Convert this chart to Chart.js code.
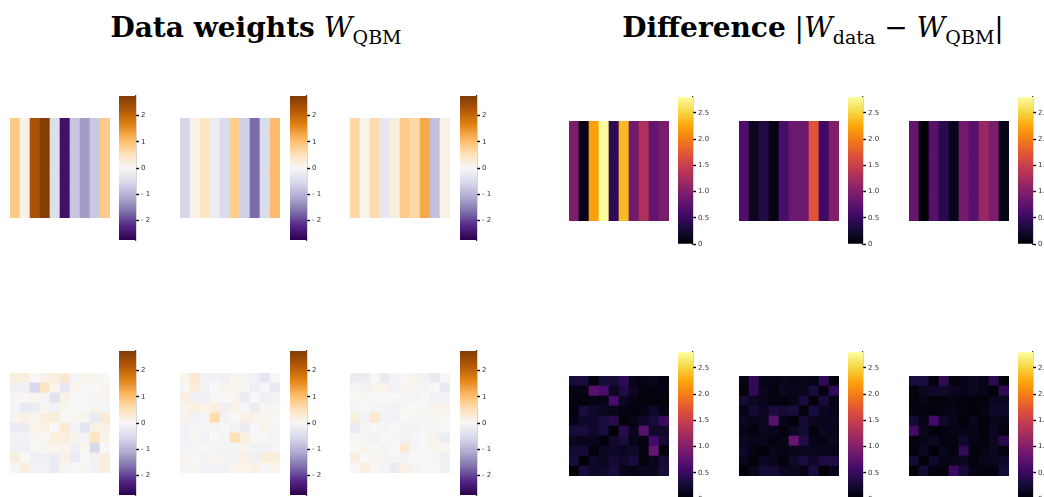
<!DOCTYPE html>
<html>
<head>
<meta charset="utf-8">
<script src="https://cdn.jsdelivr.net/npm/chart.js@4.4.0/dist/chart.umd.min.js"></script>
<style>
  html, body { margin: 0; padding: 0; background: #fff; }
  body { width: 1044px; height: 497px; position: relative; overflow: hidden; }
  canvas { position: absolute; }
  .title { position: absolute; top: 13px; font-family: "DejaVu Serif", serif; font-size: 28px; line-height: 30px; white-space: nowrap; text-align: center; color: #000; }
  .title b { font-weight: bold; }
  .title i { font-style: italic; }
  .title sub { font-size: 19px; vertical-align: -7px; line-height: 0; }
</style>
</head>
<body>
<div class="title" style="left:0;width:512px"><b>Data weights</b> <i>W</i><sub>QBM</sub></div>
<div class="title" style="left:582px;width:462px"><b>Difference</b> |<i>W</i><sub>data</sub> − <i>W</i><sub>QBM</sub>|</div>

<script>
// ---- data ----
const colLabels = ["0", "1", "2", "3", "4", "5", "6", "7", "8", "9"];

// top row: weights are constant down each column
const qbmStripes1 = [0.85, 0.15, 2.3, 2.7, -0.45, -2.5, -0.8, -1.25, -0.75, 0.85];
const qbmStripes2 = [-0.6, 0.15, 0.45, -0.2, -0.5, 0.8, -0.65, -1.7, -0.5, 1.05];
const qbmStripes3 = [0.65, 0.1, 0.6, -0.3, 0.2, 0.85, 0.65, 1.25, -0.85, 0.15];

const diffStripes1 = [0.95, 0.1, 2.2, 2.78, 0.45, 2.35, 0.9, 1.3, 0.8, 0.95];
const diffStripes2 = [0.65, 0.15, 0.35, 0.08, 0.6, 0.85, 0.85, 1.7, 0.55, 1.0];
const diffStripes3 = [0.8, 0.02, 0.7, 0.4, 0.12, 0.9, 0.7, 1.15, 0.95, 0.1];

// bottom row: full 10x10 weights, top row of the grid first
const qbmGrid1 = [
  [0.2, 0.2, 0, 0.15, 0.2, 0.35, -0.05, 0.05, 0.1, 0],
  [-0.15, -0.15, -0.55, 0.45, 0.1, -0.3, 0.1, 0, 0, 0.05],
  [0.05, 0, 0.05, -0.05, -0.4, 0.15, 0, 0, -0.05, 0.05],
  [-0.05, -0.25, -0.2, 0.05, -0.1, 0.05, 0, 0, 0.1, -0.05],
  [0.05, 0.15, 0.1, 0.2, 0.25, 0, 0.05, 0.1, -0.25, 0.3],
  [-0.25, -0.2, 0.1, 0.15, 0, 0.3, -0.1, -0.35, 0.15, 0.15],
  [-0.1, -0.1, 0.05, 0, 0.2, 0.25, 0.1, -0.05, 0.45, 0.1],
  [-0.15, -0.15, 0, 0.05, 0.1, 0.1, -0.15, 0.05, -0.55, 0],
  [0.25, 0, -0.15, -0.15, -0.2, 0.15, -0.25, 0, -0.1, 0.2],
  [-0.02, 0.25, -0.1, -0.1, -0.25, 0.05, 0, 0.05, -0.1, 0.2]
];
const qbmGrid2 = [
  [0.1, 0.35, -0.1, -0.1, -0.15, 0.05, 0.05, -0.1, -0.3, 0],
  [-0.02, 0.25, -0.1, 0, 0.1, 0.05, 0.05, -0.15, 0, -0.25],
  [0.2, -0.15, -0.15, 0, 0, 0.05, -0.2, 0, -0.15, -0.1],
  [0.1, 0.2, 0.1, 0.2, -0.15, 0.15, 0, -0.2, 0.05, 0.05],
  [0.1, -0.1, -0.05, 0.6, -0.1, 0, 0.15, 0.1, 0.05, 0.03],
  [-0.1, -0.03, -0.05, -0.05, 0, -0.1, -0.2, 0, 0.1, -0.05],
  [-0.1, 0.08, -0.1, 0, -0.05, 0.55, 0.2, 0, 0, -0.05],
  [-0.08, -0.03, 0, -0.05, -0.08, -0.08, 0.08, -0.1, -0.1, -0.03],
  [0.08, -0.02, -0.08, 0.08, -0.05, -0.1, 0.15, -0.15, 0.25, 0.25],
  [-0.05, 0.08, -0.1, -0.1, -0.1, 0.1, 0.1, 0.15, -0.02, 0.1]
];
const qbmGrid3 = [
  [-0.2, -0.2, 0, -0.25, -0.05, 0.02, 0.1, -0.1, -0.25, 0],
  [-0.03, -0.1, 0.1, 0.1, -0.1, 0.05, 0.05, -0.05, 0, -0.25],
  [0.02, 0.03, 0, 0, 0, -0.05, -0.05, 0, -0.1, -0.1],
  [-0.05, 0, -0.05, -0.05, -0.1, 0.05, 0, 0.03, 0.1, 0.1],
  [0.2, -0.1, 0.35, -0.1, -0.1, 0, 0.05, -0.05, 0.08, 0.02],
  [-0.25, 0.05, -0.02, -0.05, 0, -0.08, -0.08, -0.02, -0.05, 0],
  [-0.02, -0.05, -0.1, 0, -0.03, -0.08, -0.03, 0, 0.1, -0.2],
  [0, 0.1, 0, -0.08, 0, 0.3, -0.03, 0, 0.1, 0.02],
  [0.2, 0, 0.1, -0.05, 0.05, -0.08, 0, 0.03, -0.03, -0.15],
  [-0.02, 0.2, 0, -0.05, -0.25, 0.15, -0.05, 0, 0, -0.15]
];

const diffGrid1 = [
  [0.3, 0.3, 0.05, 0.28, 0.28, 0.45, 0.1, 0.08, 0.12, 0.05],
  [0.08, 0.1, 0.7, 0.6, 0.15, 0.35, 0.15, 0.05, 0.05, 0.1],
  [0.08, 0.05, 0.1, 0.1, 0.6, 0.15, 0.08, 0.05, 0.05, 0.05],
  [0.05, 0.3, 0.2, 0.15, 0.12, 0.08, 0.05, 0.08, 0.2, 0.08],
  [0.1, 0.2, 0.2, 0.3, 0.4, 0.02, 0.1, 0.2, 0.3, 0.5],
  [0.3, 0.3, 0.2, 0.3, 0.02, 0.4, 0.12, 0.7, 0.2, 0.2],
  [0.15, 0.12, 0.12, 0.05, 0.2, 0.3, 0.1, 0.08, 0.55, 0.25],
  [0.25, 0.25, 0.05, 0.15, 0.2, 0.15, 0.2, 0.05, 0.8, 0.03],
  [0.3, 0.02, 0.2, 0.15, 0.25, 0.2, 0.3, 0.05, 0.12, 0.25],
  [0.03, 0.3, 0.2, 0.2, 0.3, 0.12, 0.08, 0.15, 0.15, 0.3]
];
const diffGrid2 = [
  [0.1, 0.45, 0.1, 0.1, 0.12, 0.1, 0.12, 0.1, 0.45, 0.05],
  [0.05, 0.45, 0.15, 0.05, 0.15, 0.12, 0.12, 0.3, 0.05, 0.45],
  [0.25, 0.15, 0.12, 0.08, 0.05, 0.12, 0.3, 0.05, 0.3, 0.1],
  [0.1, 0.25, 0.15, 0.3, 0.25, 0.3, 0.05, 0.3, 0.15, 0.12],
  [0.15, 0.12, 0.15, 0.7, 0.1, 0.03, 0.25, 0.15, 0.12, 0.15],
  [0.1, 0.05, 0.15, 0.12, 0.05, 0.15, 0.25, 0.05, 0.15, 0.12],
  [0.15, 0.12, 0.12, 0.05, 0.1, 0.8, 0.35, 0.1, 0.08, 0.15],
  [0.2, 0.08, 0.03, 0.12, 0.1, 0.12, 0.15, 0.15, 0.12, 0.1],
  [0.12, 0.03, 0.15, 0.12, 0.05, 0.2, 0.3, 0.2, 0.35, 0.35],
  [0.03, 0.12, 0.25, 0.25, 0.15, 0.15, 0.1, 0.3, 0.03, 0.12]
];
const diffGrid3 = [
  [0.3, 0.3, 0.05, 0.45, 0.05, 0.1, 0.15, 0.1, 0.4, 0.03],
  [0.05, 0.15, 0.2, 0.2, 0.15, 0.1, 0.15, 0.1, 0.03, 0.45],
  [0.05, 0.1, 0.05, 0.05, 0.08, 0.05, 0.05, 0.05, 0.15, 0.15],
  [0.08, 0.05, 0.05, 0.08, 0.1, 0.05, 0.03, 0.08, 0.2, 0.2],
  [0.25, 0.1, 0.55, 0.2, 0.1, 0.02, 0.12, 0.05, 0.12, 0.1],
  [0.55, 0.12, 0.05, 0.05, 0.1, 0.1, 0.1, 0.05, 0.15, 0.05],
  [0.05, 0.1, 0.15, 0.05, 0.05, 0.2, 0.1, 0.05, 0.15, 0.4],
  [0.05, 0.15, 0.03, 0.12, 0.05, 0.45, 0.05, 0.08, 0.15, 0.05],
  [0.25, 0.03, 0.2, 0.1, 0.12, 0.15, 0.05, 0.12, 0.15, 0.2],
  [0.03, 0.25, 0.05, 0.05, 0.5, 0.25, 0.1, 0.05, 0.05, 0.25]
];

const qbmRange = [-2.75, 2.75];
const diffRange = [0, 2.8];
const qbmTicks = [-2, -1, 0, 1, 2];
const qbmTickLabels = ["- 2", "- 1", "0", "1", "2"];
const diffTicks = [0, 0.5, 1, 1.5, 2, 2.5];
const diffTickLabels = ["0", "0.5", "1.0", "1.5", "2.0", "2.5"];

// ---- colour maps ----
const puorR = ["#2d004b", "#542788", "#8073ac", "#b2abd2", "#d8daeb", "#f7f7f7",
               "#fee0b6", "#fdb863", "#e08214", "#b35806", "#7f3b08"];
const inferno = ["#000004", "#160b39", "#420a68", "#6a176e", "#932667", "#bc3754",
                 "#dd513a", "#f37819", "#fca50a", "#f6d746", "#fcffa4"];

function hexRgb(h) {
    return [parseInt(h.slice(1, 3), 16), parseInt(h.slice(3, 5), 16), parseInt(h.slice(5, 7), 16)];
}

function mapColor(stops, range, v) {
    let t = (v - range[0]) / (range[1] - range[0]);
    t = Math.min(1, Math.max(0, t));
    const p = t * (stops.length - 1);
    const i = Math.min(stops.length - 2, Math.floor(p));
    const f = p - i;
    const a = hexRgb(stops[i]), b = hexRgb(stops[i + 1]);
    const c = a.map((x, k) => Math.round(x + (b[k] - x) * f));
    return "rgb(" + c.join(",") + ")";
}

function addCanvas(id, left, top, w, h) {
    const c = document.createElement("canvas");
    c.id = id;
    c.width = w;
    c.height = h;
    c.style.left = left + "px";
    c.style.top = top + "px";
    c.style.width = w + "px";
    c.style.height = h + "px";
    document.body.appendChild(c);
    return c;
}

const baseOptions = {
    responsive: false,
    animation: false,
    events: [],
    devicePixelRatio: 1,
    plugins: { legend: { display: false }, tooltip: { enabled: false } }
};

function drawHeatmap(canvas, matrix, stops, range) {
    const rows = matrix.slice().reverse(); // first dataset sits at the bottom
    new Chart(canvas, {
        type: "bar",
        data: {
            labels: colLabels,
            datasets: rows.map(row => ({
                data: row.map(() => 1),
                backgroundColor: row.map(v => mapColor(stops, range, v)),
                borderWidth: 0,
                barPercentage: 1,
                categoryPercentage: 1
            }))
        },
        options: Object.assign({}, baseOptions, {
            layout: { padding: 0 },
            scales: {
                x: { stacked: true, display: false },
                y: { stacked: true, display: false, min: 0, max: rows.length }
            }
        })
    });
}

function drawColorbar(canvas, stops, range, ticks, tickLabels, axisW, pad) {
    new Chart(canvas, {
        type: "bar",
        data: {
            labels: ["cb"],
            datasets: [{
                data: [range],
                borderWidth: 0,
                barPercentage: 1,
                categoryPercentage: 1,
                backgroundColor: ctx => {
                    const chart = ctx.chart;
                    if (!chart.chartArea) return stops[0];
                    const y = chart.scales.y;
                    const g = chart.ctx.createLinearGradient(0, y.getPixelForValue(range[0]), 0, y.getPixelForValue(range[1]));
                    stops.forEach((s, i) => g.addColorStop(i / (stops.length - 1), s));
                    return g;
                }
            }]
        },
        options: Object.assign({}, baseOptions, {
            layout: { padding: { top: pad, bottom: pad, left: 0, right: 0 } },
            scales: {
                x: { display: false },
                y: {
                    position: "right",
                    min: range[0],
                    max: range[1],
                    afterBuildTicks: s => { s.ticks = ticks.map(v => ({ value: v })); },
                    afterFit: s => { s.width = axisW; s.paddingTop = 0; s.paddingBottom = 0; },
                    ticks: {
                        callback: (v, i) => tickLabels[i],
                        font: { size: 7, family: "DejaVu Sans" },
                        color: "#333",
                        padding: 2
                    },
                    grid: { drawOnChartArea: false, tickLength: 3, tickColor: "#000", tickWidth: 1.4 },
                    border: { display: true, color: "#333", width: 1.2 }
                }
            }
        })
    });
}

function loadFigure() {
    const axisW = 26, pad = 6;
    const leftX = [10, 180, 350];
    const leftCb = [119, 290, 460];
    const rightX = [569, 739, 909];
    const rightCb = [678, 848, 1018];

    const qbmTop = [qbmStripes1, qbmStripes2, qbmStripes3];
    const diffTop = [diffStripes1, diffStripes2, diffStripes3];
    const qbmBottom = [qbmGrid1, qbmGrid2, qbmGrid3];
    const diffBottom = [diffGrid1, diffGrid2, diffGrid3];

    for (let k = 0; k < 3; k++) {
        // weights, top row (stripes repeated down the rows)
        drawHeatmap(addCanvas("qt" + k, leftX[k], 118, 100, 100),
            colLabels.map(() => qbmTop[k]), puorR, qbmRange);
        drawColorbar(addCanvas("qtc" + k, leftCb[k], 96 - pad, 17 + axisW, 144 + 2 * pad),
            puorR, qbmRange, qbmTicks, qbmTickLabels, axisW, pad);

        drawHeatmap(addCanvas("qb" + k, leftX[k], 373, 100, 100),
            qbmBottom[k], puorR, qbmRange);
        drawColorbar(addCanvas("qbc" + k, leftCb[k], 351 - pad, 17 + axisW, 144 + 2 * pad),
            puorR, qbmRange, qbmTicks, qbmTickLabels, axisW, pad);

        // differences
        drawHeatmap(addCanvas("dt" + k, rightX[k], 121, 100, 100),
            colLabels.map(() => diffTop[k]), inferno, diffRange);
        drawColorbar(addCanvas("dtc" + k, rightCb[k], 97 - pad, 15 + axisW, 147 + 2 * pad),
            inferno, diffRange, diffTicks, diffTickLabels, axisW, pad);

        drawHeatmap(addCanvas("db" + k, rightX[k], 376, 100, 100),
            diffBottom[k], inferno, diffRange);
        drawColorbar(addCanvas("dbc" + k, rightCb[k], 352 - pad, 15 + axisW, 147 + 2 * pad),
            inferno, diffRange, diffTicks, diffTickLabels, axisW, pad);
    }
}

document.addEventListener("DOMContentLoaded", loadFigure);
</script>
</body>
</html>
